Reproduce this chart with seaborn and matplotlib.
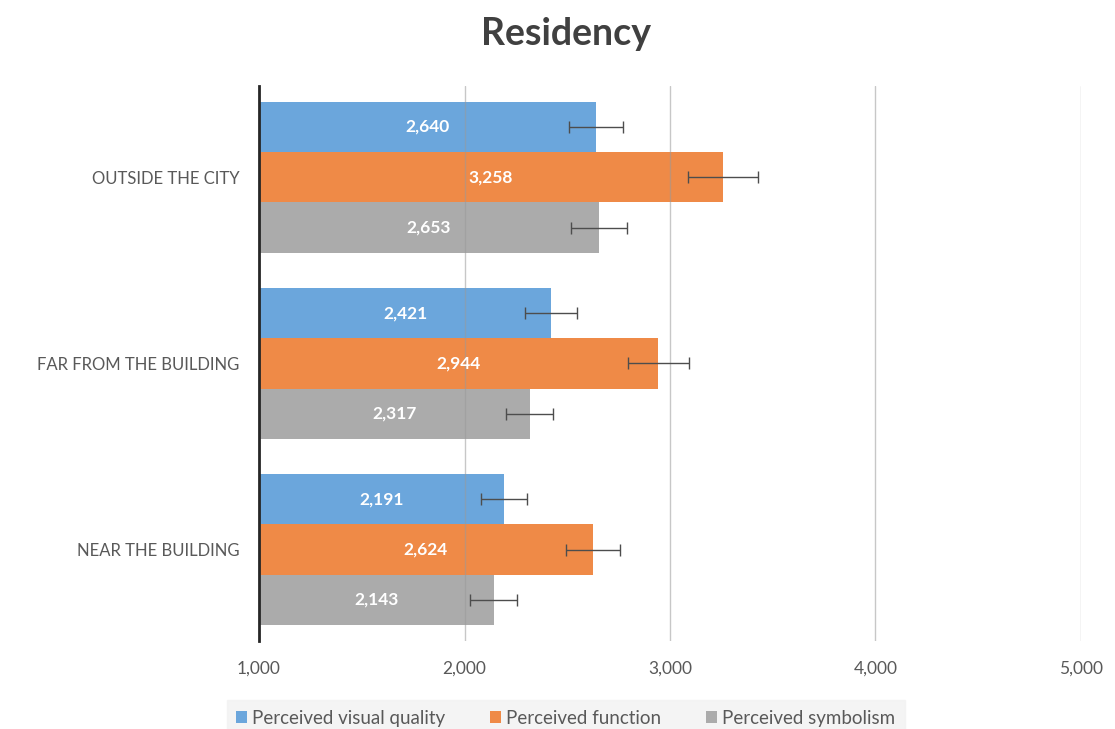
import matplotlib
matplotlib.use("Agg")
import matplotlib.pyplot as plt
import seaborn as sns
import pandas as pd
import numpy as np

# Mean scores (1-5 scale) per residency group and perceived dimension
categories = ["OUTSIDE THE CITY", "FAR FROM THE BUILDING", "NEAR THE BUILDING"]
series = ["Perceived visual quality", "Perceived function", "Perceived symbolism"]
visual_quality = [2.640, 2.421, 2.191]
function = [3.258, 2.944, 2.624]
symbolism = [2.653, 2.317, 2.143]
# Error bar half-widths
visual_quality_err = [0.130, 0.127, 0.112]
function_err = [0.168, 0.148, 0.131]
symbolism_err = [0.136, 0.115, 0.114]
x_ticks = [1, 2, 3, 4, 5]

colors = ["#6ba6dc", "#ef8a47", "#ababab"]

values = [visual_quality, function, symbolism]
errors = [visual_quality_err, function_err, symbolism_err]

df = pd.DataFrame({
    "category": np.repeat([categories], len(series), axis=0).ravel(),
    "series": np.repeat(series, len(categories)),
    "value": np.concatenate(values),
})

sns.set_theme(style="white")
plt.rcParams["font.family"] = ["Lato", "DejaVu Sans"]


def fmt(v, nd=3):
    return f"{v:.{nd}f}".replace(".", ",")


fig = plt.figure(figsize=(11.15, 7.29), dpi=100)
ax = fig.add_axes([0.2323, 0.121, 0.7372, 0.761])

sns.barplot(data=df, y="category", x="value", hue="series", orient="h",
            order=categories, hue_order=series, palette=colors,
            saturation=1, width=0.81, errorbar=None, ax=ax, zorder=2,
            linewidth=0)

ax.set_xlim(1, 5)
ax.set_ylim(2.49, -0.49)
ax.set_xticks(x_ticks)
ax.set_xticklabels([fmt(t) for t in x_ticks], color="#595959", fontsize=12.5)
ax.tick_params(axis="x", length=0, pad=14)
ax.tick_params(axis="y", length=0, pad=14)
for lab in ax.get_yticklabels():
    lab.set_color("#595959")
    lab.set_fontsize(12)
ax.set_xlabel("")
ax.set_ylabel("")

# vertical gridlines, faintly visible through the bars
for t in x_ticks[1:]:
    ax.axvline(t, color="#9a9a9a", lw=1.0, alpha=0.55, zorder=3)

for s in ["top", "right", "bottom"]:
    ax.spines[s].set_visible(False)
ax.spines["left"].set_color("#262626")
ax.spines["left"].set_linewidth(2)
ax.spines["left"].set_zorder(5)

# error bars and centred value labels, positioned from the drawn bars
for container, vals, errs in zip(ax.containers, values, errors):
    ys = [p.get_y() + p.get_height() / 2 for p in container.patches]
    ax.errorbar(vals, ys, xerr=errs, fmt="none", ecolor="#4d4d4d",
                elinewidth=1.0, capsize=4, capthick=1.0, zorder=4)
    for v, y in zip(vals, ys):
        ax.text((ax.get_xlim()[0] + v) / 2, y, fmt(v), ha="center",
                va="center", color="white", fontsize=12.5, fontweight="bold",
                zorder=6)

fig.text(0.508, 0.953, "Residency", ha="center", va="center",
         fontsize=27, fontweight="bold", color="#404040")

handles, labels = ax.get_legend_handles_labels()
if ax.legend_:
    ax.legend_.remove()
leg = fig.legend(handles, labels, loc="center", bbox_to_anchor=(0.5075, 0.015),
                 ncol=3, frameon=True, facecolor="#f2f2f2", edgecolor="#f2f2f2",
                 handlelength=0.55, handleheight=0.55, handletextpad=0.3,
                 columnspacing=2.4, borderpad=0.5, fontsize=13.5,
                 fancybox=False)
leg.get_frame().set_boxstyle("square", pad=0.0)
for t in leg.get_texts():
    t.set_color("#595959")

fig.savefig("out.png", dpi=100)
